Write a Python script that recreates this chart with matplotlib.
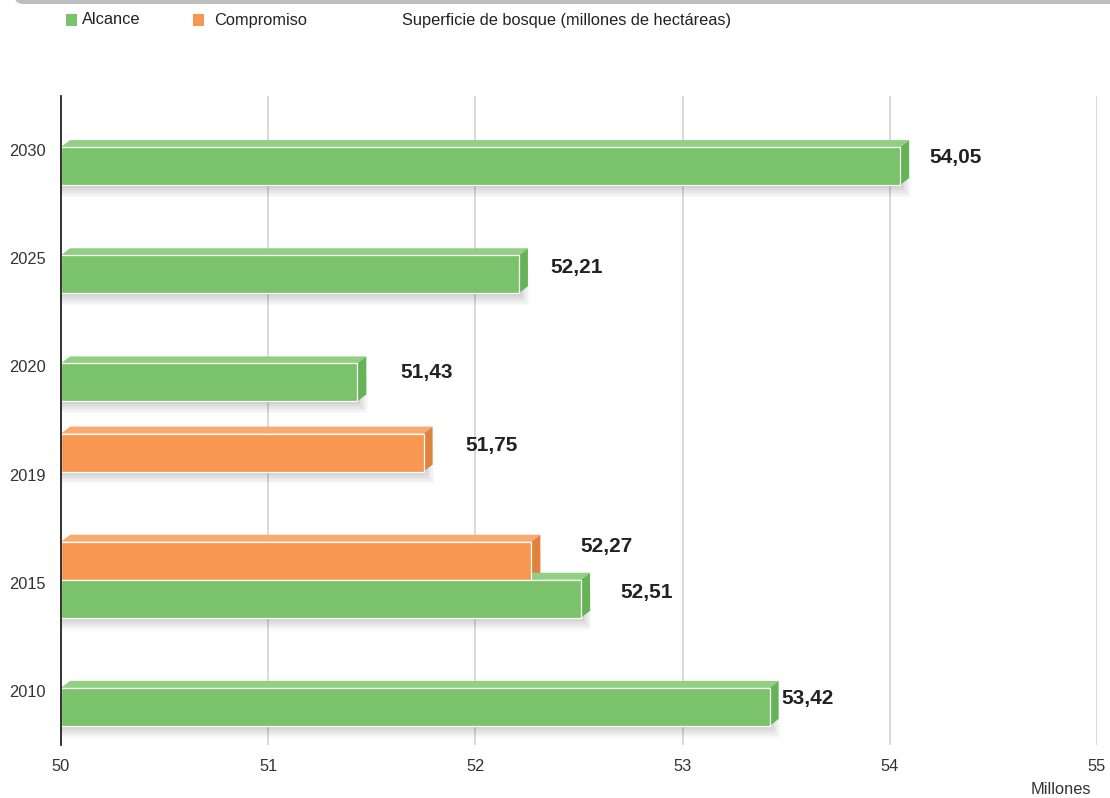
import numpy as np
import matplotlib
matplotlib.use("Agg")
import matplotlib.pyplot as plt
from matplotlib.patches import Polygon, Rectangle, FancyBboxPatch

plt.rcParams['font.family'] = ['Liberation Sans', 'DejaVu Sans']

# ---- data ----
categories = ['2010', '2015', '2019', '2020', '2025', '2030']   # bottom to top
alcance = [53.42, 52.51, np.nan, 51.43, 52.21, 54.05]
compromiso = [np.nan, 52.27, 51.75, np.nan, np.nan, np.nan]
xticks = [50, 51, 52, 53, 54, 55]
series_names = ['Alcance', 'Compromiso']
title = 'Superficie de bosque (millones de hectáreas)'
unit_label = 'Millones'

def fmt(v):
    return f'{v:.2f}'.replace('.', ',')

# ---- style ----
W, H = 1110, 798
FS = 11.8
fig = plt.figure(figsize=(W / 100, H / 100), dpi=100)
ax_l, ax_r, ax_t, ax_b = 61, 1097, 96, 745
ax = fig.add_axes([ax_l / W, 1 - ax_b / H, (ax_r - ax_l) / W, (ax_b - ax_t) / H])
xmin, xmax = 50, 55
ax.set_xlim(xmin, xmax)
ax.set_ylim(-0.5, len(categories) - 0.5)
pxx = (xmax - xmin) / (ax_r - ax_l)       # data units per pixel (x)
pxy = len(categories) / (ax_b - ax_t)     # data units per pixel (y)

colors = {
    'Alcance': dict(front='#7AC36A', top='#92CF83', side='#66B257'),
    'Compromiso': dict(front='#F79751', top='#F9AA70', side='#E0813D'),
}
# front face vertical extent relative to category center, in pixels (up positive)
extent = {'Alcance': (-35, 3), 'Compromiso': (3, 41)}
DX, DY = 9, 7  # 3D depth in px

def draw_bar(yc, val, name, nudge):
    c = colors[name]
    lo, hi = extent[name]
    y0 = yc + lo * pxy
    y1 = yc + hi * pxy
    dx, dy = DX * pxx, DY * pxy
    # shadow
    for i in range(1, 9):
        ax.add_patch(Rectangle((xmin, y0 - i * 1.5 * pxy), val - xmin + i * 1.3 * pxx,
                               (y1 - y0), facecolor='black', alpha=0.022,
                               edgecolor='none', zorder=2))
    # top face
    ax.add_patch(Polygon([(xmin, y1), (val, y1), (val + dx, y1 + dy), (xmin + dx, y1 + dy)],
                         closed=True, facecolor=c['top'], edgecolor='none', zorder=3))
    # side face
    ax.add_patch(Polygon([(val, y0), (val + dx, y0 + dy), (val + dx, y1 + dy), (val, y1)],
                         closed=True, facecolor=c['side'], edgecolor='none', zorder=3))
    # front face
    ax.add_patch(Rectangle((xmin, y0), val - xmin, y1 - y0, facecolor=c['front'],
                           edgecolor='white', linewidth=0.9, zorder=4))
    ax.text(val + nudge[0] * pxx, (y0 + y1) / 2 + nudge[1] * pxy, fmt(val),
            fontsize=15, fontweight='bold', color='#222222', ha='center', va='center',
            zorder=6)

# label nudges in px (x from bar end, y from bar center)
nudge_alc = {'2010': (38, 8), '2015': (66, 6), '2020': (69, 10), '2025': (58, 7), '2030': (55, 9)}
nudge_com = {'2015': (75, 14), '2019': (68, 7)}

for i, cat in enumerate(categories):
    if not np.isnan(compromiso[i]):
        draw_bar(i, compromiso[i], 'Compromiso', nudge_com[cat])
    if not np.isnan(alcance[i]):
        draw_bar(i, alcance[i], 'Alcance', nudge_alc[cat])

# grid & axes
for t in xticks[1:]:
    ax.axvline(t, color='#D3D3D3', linewidth=1.2, zorder=1)
for s in ['top', 'right', 'bottom']:
    ax.spines[s].set_visible(False)
ax.spines['left'].set_color('#111111')
ax.spines['left'].set_linewidth(1.2)
ax.spines['left'].set_zorder(7)
ax.set_xticks(xticks)
ax.set_xticklabels([str(t) for t in xticks], fontsize=FS, color='#333333')
ax.set_yticks(range(len(categories)))
ax.set_yticklabels(categories, fontsize=FS, color='#333333')
ax.tick_params(axis='x', length=0, pad=10)
ax.tick_params(axis='y', length=0, pad=11)
ax.set_facecolor('none')

fig.text(1091 / W, 1 - 790 / H, unit_label, fontsize=FS, color='#333333', ha='right', va='center')

# top gray strip
fig.patches.append(FancyBboxPatch((15 / W, 1 - 4 / H), 1.2, 0.02,
                                  boxstyle='round,pad=0,rounding_size=0.008',
                                  transform=fig.transFigure, facecolor='#BCBEC0',
                                  edgecolor='none'))

# legend
ly = 1 - 20 / H
fig.patches.append(Rectangle((66 / W, 1 - 26 / H), 11 / W, 12 / H, transform=fig.transFigure,
                             facecolor=colors['Alcance']['front'], edgecolor='none'))
fig.text(82 / W, ly, series_names[0], fontsize=FS, color='#222222', va='center')
fig.patches.append(Rectangle((193 / W, 1 - 26 / H), 11 / W, 12 / H, transform=fig.transFigure,
                             facecolor=colors['Compromiso']['front'], edgecolor='none'))
fig.text(214 / W, ly, series_names[1], fontsize=FS, color='#222222', va='center')
fig.text(402 / W, ly, title, fontsize=FS, color='#222222', va='center')

fig.savefig('out.png', dpi=100)
